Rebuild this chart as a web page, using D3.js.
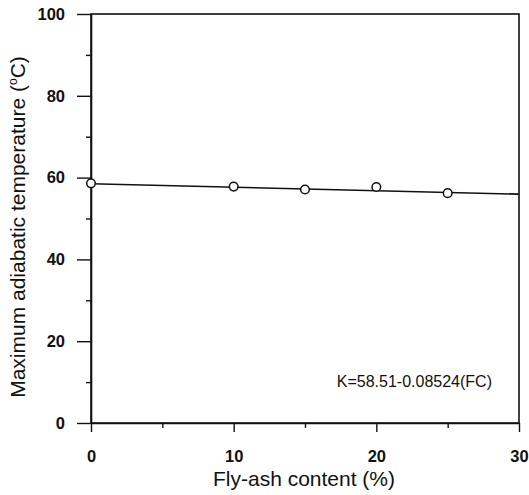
<!DOCTYPE html>
<html>
<head>
<meta charset="utf-8">
<script src="https://cdn.jsdelivr.net/npm/d3@7"></script>
<style>
  html, body { margin: 0; padding: 0; background: #fff; }
  svg text { font-family: "Liberation Sans", Arial, sans-serif; fill: #111; }
</style>
</head>
<body>
<svg id="chart" width="529" height="495"></svg>
<script>
// Measured adiabatic temperature rise vs fly-ash replacement
const flyAsh = [0, 10, 15, 20, 25];
const maxTemp = [58.6, 57.8, 57.1, 57.7, 56.2];

// Linear fit K = a + b * FC
const fitA = 58.51;
const fitB = -0.08524;
const fitRange = [0, 30];
const fitLabel = "K=58.51-0.08524(FC)";

const xMajorTicks = [0, 10, 20, 30];
const xMinorTicks = [5, 15, 25];
const yMajorTicks = [0, 20, 40, 60, 80, 100];
const yMinorTicks = [10, 30, 50, 70, 90];

const svg = d3.select("#chart");
const plot = { left: 91, right: 519, top: 14, bottom: 423 };

const x = d3.scaleLinear().domain([0, 30]).range([plot.left, plot.right]);
const y = d3.scaleLinear().domain([0, 100]).range([plot.bottom, plot.top]);

const ink = "#111";
const tickFont = '"Liberation Sans Narrow", "Arial Narrow", "Liberation Sans", sans-serif';

// frame
svg.append("rect")
  .attr("x", plot.left).attr("y", plot.top)
  .attr("width", plot.right - plot.left).attr("height", plot.bottom - plot.top)
  .attr("fill", "none").attr("stroke", ink).attr("stroke-width", 1.6);

// y axis
svg.append("g").attr("transform", `translate(${plot.left},0)`)
  .call(d3.axisLeft(y).tickValues(yMajorTicks).tickSize(14).tickSizeOuter(0).tickPadding(12));
svg.append("g").attr("transform", `translate(${plot.left},0)`)
  .call(d3.axisLeft(y).tickValues(yMinorTicks).tickSize(5).tickFormat(""))
  .call(g => g.select(".domain").remove());

// x axis
svg.append("g").attr("transform", `translate(0,${plot.bottom})`)
  .call(d3.axisBottom(x).tickValues(xMajorTicks).tickSize(9).tickSizeOuter(0).tickPadding(18));
svg.append("g").attr("transform", `translate(0,${plot.bottom})`)
  .call(d3.axisBottom(x).tickValues(xMinorTicks).tickSize(5).tickFormat(""))
  .call(g => g.select(".domain").remove());

svg.selectAll(".domain").attr("stroke", ink).attr("stroke-width", 1.6);
svg.selectAll(".tick line").attr("stroke", ink).attr("stroke-width", 1.4);
svg.selectAll(".tick text")
  .style("font-family", tickFont)
  .attr("font-size", 16.5).attr("font-weight", "bold").attr("fill", ink);

// fit line
svg.append("line")
  .attr("x1", x(fitRange[0])).attr("y1", y(fitA + fitB * fitRange[0]))
  .attr("x2", x(fitRange[1])).attr("y2", y(fitA + fitB * fitRange[1]))
  .attr("stroke", ink).attr("stroke-width", 1.6);

// data points
svg.selectAll("circle.pt")
  .data(flyAsh.map((v, i) => ({ fc: v, t: maxTemp[i] })))
  .join("circle")
  .attr("class", "pt")
  .attr("cx", d => x(d.fc)).attr("cy", d => y(d.t))
  .attr("r", 4.3).attr("fill", "#fff")
  .attr("stroke", ink).attr("stroke-width", 1.5);

// equation
svg.append("text")
  .attr("x", 492).attr("y", 387)
  .attr("text-anchor", "end")
  .attr("font-size", 16)
  .text(fitLabel);

// axis titles
svg.append("text")
  .attr("x", 304).attr("y", 486)
  .attr("text-anchor", "middle")
  .attr("font-size", 21)
  .text("Fly-ash content (%)");

const yt = svg.append("text")
  .attr("transform", "translate(25,227) rotate(-90)")
  .attr("text-anchor", "middle")
  .attr("font-size", 21);
yt.append("tspan").text("Maximum adiabatic temperature (");
yt.append("tspan").attr("font-size", 12).attr("dy", -8).text("o");
yt.append("tspan").attr("dy", 8).text("C)");
</script>
</body>
</html>
